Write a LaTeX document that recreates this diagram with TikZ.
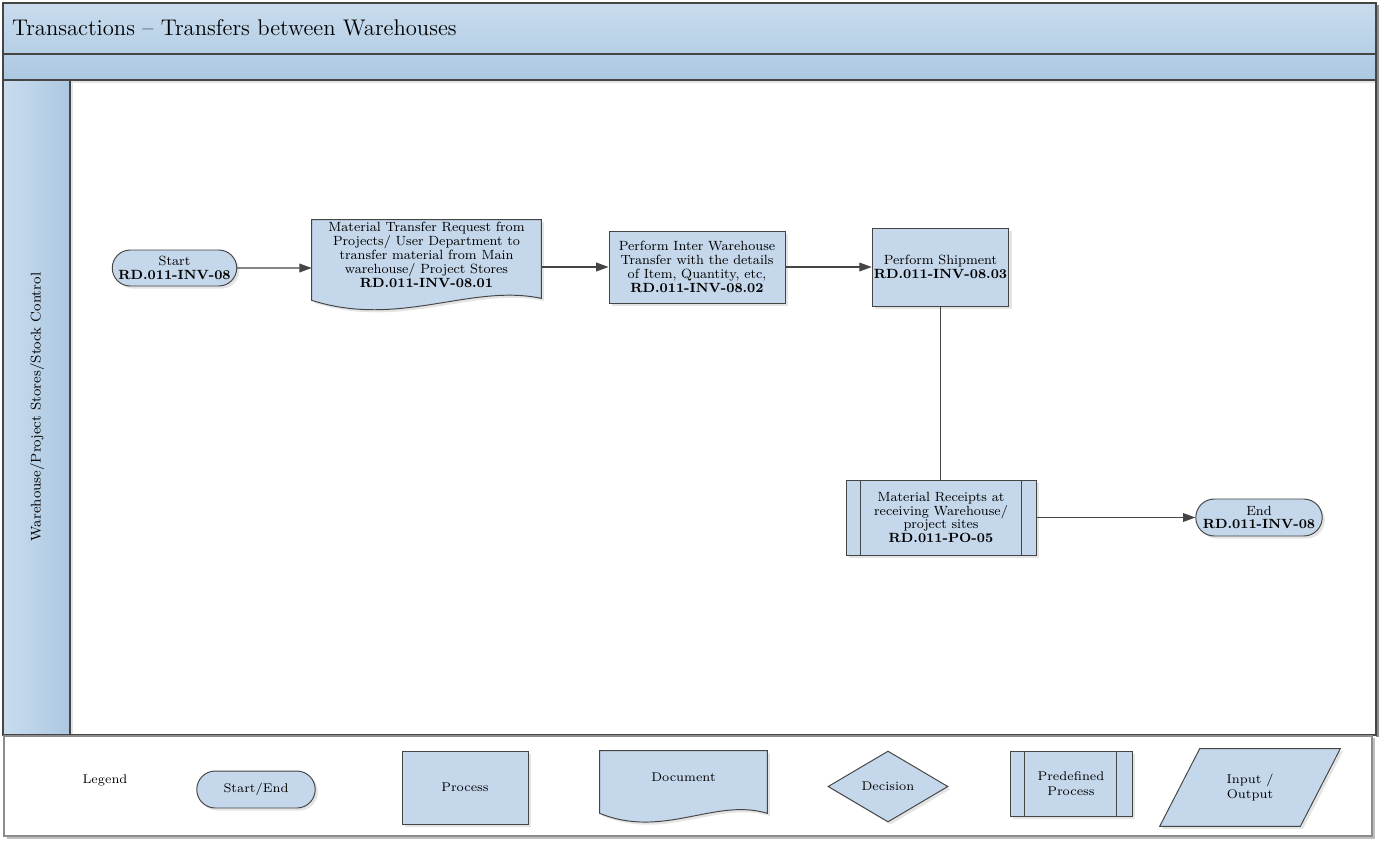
\documentclass[tikz,border=0pt]{standalone}
\usepackage{tikz}
\usepackage{xcolor}
\usetikzlibrary{calc, shadows, shapes.geometric, shapes.misc, arrows.meta, positioning}
\definecolor{shapefill}{HTML}{C5D7EA}
\definecolor{bandtop}{HTML}{C9DCEE}
\definecolor{bandbot}{HTML}{ACC8E1}
\definecolor{lineclr}{HTML}{454545}
\newcommand{\refcode}[1]{\textbf{#1}}

\begin{document}
\begin{tikzpicture}[x=0.02cm, y=-0.02cm,
    every node/.style={font=\fontsize{7.6}{7.9}\selectfont, align=center, inner sep=1pt},
    shade/.style={drop shadow={fill=black!30, opacity=0.35, shadow xshift=1.5pt, shadow yshift=-1.5pt}},
    shapebox/.style={draw=lineclr, line width=0.55pt, fill=shapefill, shade},
    terminal/.style={shapebox, rounded rectangle},
    process/.style={shapebox, rectangle},
    docbox/.style={rectangle, draw=none},
    docline/.style={draw=lineclr, line width=0.55pt, fill=shapefill, shade},
    flow/.style={draw=lineclr, line width=0.6pt, -{Triangle[length=7pt, width=5pt]}},
    plain/.style={draw=lineclr, line width=0.55pt},
    legendtext/.style={font=\fontsize{7.2}{8.4}\selectfont}]
    \useasboundingbox (0,0) rectangle (1381,842);

    % pool and lane
    \shade[top color=bandtop, bottom color=bandbot] (3,3) rectangle (1376,80);
    \shade[left color=bandtop, right color=bandbot] (3,80) rectangle (70,735);
    \fill[black!45] (1376,5) rectangle (1379,737);
    \draw[lineclr, line width=0.9pt] (3,3) rectangle (1376,735);
    \draw[lineclr, line width=0.9pt] (3,54) -- (1376,54);
    \draw[lineclr, line width=0.9pt] (3,80) -- (1376,80);
    \draw[lineclr, line width=0.6pt] (70,80) -- (70,735);
    \node[anchor=west, font=\fontsize{12.9}{14}\selectfont] (title) at (10,28) {Transactions -- Transfers between Warehouses};
    \node[rotate=90, font=\fontsize{8}{9}\selectfont] (lane) at (37,407) {Warehouse/Project Stores/Stock Control};

    % flow
    \node[terminal, minimum width=2.46cm, minimum height=0.72cm] (start) at (174.5,268) {Start\\\refcode{RD.011-INV-08}};
    \node[docbox, minimum width=4.58cm, minimum height=1.4cm] (req) at (426.5,255) {};
    \path[docline] (req.north west) -- (req.north east) -- ($(req.south east)+(0,8)$)
        .. controls ($(req.south east)+(-71,-7)$) and ($(req.south west)+(88,38)$) .. ($(req.south west)+(0,10)$) -- cycle;
    \node (reqtext) at (req) {Material Transfer Request from\\Projects/ User Department to\\transfer material from Main\\warehouse/ Project Stores\\\refcode{RD.011-INV-08.01}};
    \node[process, minimum width=3.52cm, minimum height=1.44cm] (transfer) at (697,267) {Perform Inter Warehouse\\Transfer with the details\\of Item, Quantity, etc,\\\refcode{RD.011-INV-08.02}};
    \node[process, minimum width=2.62cm, minimum height=1.56cm] (ship) at (940.5,267) {Perform Shipment\\\refcode{RD.011-INV-08.03}};
    \node[process, minimum width=3.8cm, minimum height=1.5cm] (receipt) at (941,517.5) {Material Receipts at\\receiving Warehouse/\\project sites\\\refcode{RD.011-PO-05}};
    \draw[plain] ($(receipt.north west)+(15,0)$) -- ($(receipt.south west)+(15,0)$);
    \draw[plain] ($(receipt.north east)+(-15,0)$) -- ($(receipt.south east)+(-15,0)$);
    \node[terminal, minimum width=2.6cm, minimum height=0.74cm] (end) at (1259,517.5) {End\\\refcode{RD.011-INV-08}};

    \draw[flow] (start) -- (start -| req.west);
    \draw[flow] (req.east |- transfer) -- (transfer);
    \draw[flow] (transfer) -- (ship);
    \draw[plain] (ship) -- (ship |- receipt.north);
    \draw[flow] (receipt) -- (end);

    % legend
    \fill[black!25] (7,738) rectangle (1375,839);
    \draw[black!45, fill=white, line width=0.6pt] (4,736) rectangle (1372,836);
    \node[legendtext] (legend) at (105,780) {Legend};
    \node[terminal, legendtext, minimum width=2.44cm, minimum height=0.74cm] (lterm) at (256,789.5) {Start/End};
    \node[process, legendtext, minimum width=2.52cm, minimum height=1.46cm] (lproc) at (465,787.5) {Process};
    \node[docbox, legendtext, minimum width=3.34cm, minimum height=1.04cm] (ldoc) at (683.5,777) {};
    \path[docline] (ldoc.north west) -- (ldoc.north east) -- ($(ldoc.south east)+(0,10)$)
        .. controls ($(ldoc.south east)+(-52,-6)$) and ($(ldoc.south west)+(64,36)$) .. ($(ldoc.south west)+(0,10)$) -- cycle;
    \node[legendtext] (ldoctext) at (ldoc) {Document};
    \node[shapebox, legendtext, diamond, inner sep=0pt, minimum width=2.4cm, minimum height=1.42cm] (ldec) at (888,786.5) {Decision};
    \node[process, legendtext, minimum width=2.44cm, minimum height=1.3cm] (lpre) at (1071,783.5) {Predefined\\Process};
    \draw[plain] ($(lpre.north west)+(15,0)$) -- ($(lpre.south west)+(15,0)$);
    \draw[plain] ($(lpre.north east)+(-16,0)$) -- ($(lpre.south east)+(-16,0)$);
    \node[docbox, legendtext, minimum width=2.8cm, minimum height=1.54cm] (lio) at (1250,787.5) {};
    \path[docline] ($(lio.north west)+(20,0)$) -- ($(lio.north east)+(20,0)$) -- ($(lio.south east)+(-20,0)$) -- ($(lio.south west)+(-20,0)$) -- cycle;
    \node[legendtext] (liotext) at (lio) {Input /\\Output};
\end{tikzpicture}
\end{document}
